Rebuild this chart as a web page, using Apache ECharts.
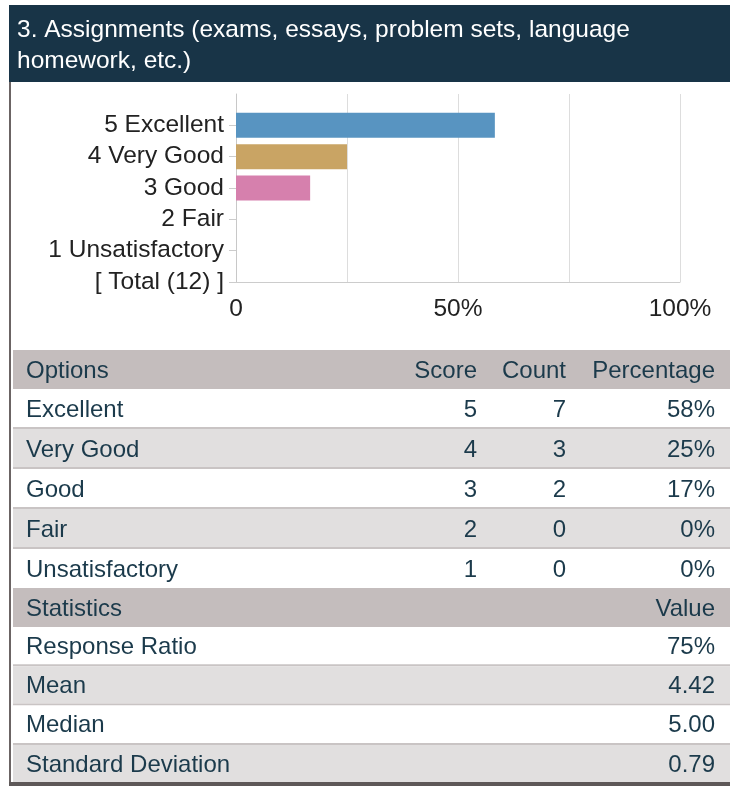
<!DOCTYPE html>
<html>
<head>
<meta charset="utf-8">
<script src="https://cdn.jsdelivr.net/npm/echarts@6/dist/echarts.min.js"></script>
<style>
html,body{margin:0;padding:0;background:#fff;}
#c{width:730px;height:786px;}
</style>
</head>
<body>
<div id="c"></div>
<script>
// ---- data ----
const titleLines = ['3. Assignments (exams, essays, problem sets, language', 'homework, etc.)'];
const options = ['Excellent', 'Very Good', 'Good', 'Fair', 'Unsatisfactory'];
const scores = [5, 4, 3, 2, 1];
const counts = [7, 3, 2, 0, 0];
const barPercents = [58.3, 25, 16.7, 0, 0];
const percentLabels = ['58%', '25%', '17%', '0%', '0%'];
const totalLabel = '[ Total (12) ]';
const xTickValues = [0, 50, 100];
const xTickLabels = ['0', '50%', '100%'];
const tableHeaders = ['Options', 'Score', 'Count', 'Percentage'];
const statsHeaders = ['Statistics', 'Value'];
const statsNames = ['Response Ratio', 'Mean', 'Median', 'Standard Deviation'];
const statsValues = ['75%', '4.42', '5.00', '0.79'];

// ---- styles ----
const barColors = ['#5894c1', '#c9a464', '#d680ad', '#8fb98f', '#9a9a9a'];
const FONT = '"Liberation Sans", Arial, Helvetica, sans-serif';
const TXT = '#1b3a4b';

const chart = echarts.init(document.getElementById('c'), null, {renderer: 'canvas'});

// category axis (bottom to top): total, 1..5, empty top slot
const yCats = [totalLabel];
const barData = [null];
for (let i = scores.length - 1; i >= 0; i--) {
  yCats.push(scores[i] + ' ' + options[i]);
  barData.push({value: barPercents[i], itemStyle: {color: barColors[i]}});
}
yCats.push('');
barData.push(null);

// ---- graphic: header + tables ----
const g = [];
g.push({type: 'rect', shape: {x: 9, y: 5, width: 721, height: 77}, style: {fill: '#183447'}, silent: true});
titleLines.forEach((t, i) => {
  g.push({type: 'text', style: {text: t, x: 17, y: 30 + i * 31.5, fill: '#ffffff', fontSize: 24.5, fontFamily: FONT, align: 'left', verticalAlign: 'middle'}, silent: true});
});
g.push({type: 'rect', shape: {x: 9, y: 82, width: 2, height: 704}, style: {fill: '#6b6464'}, silent: true});

const colX = [26, 477, 566, 715];
const colAlign = ['left', 'right', 'right', 'right'];
function textEl(t, x, y, align) {
  return {type: 'text', style: {text: t, x: x, y: y, fill: TXT, fontSize: 24, fontFamily: FONT, align: align, verticalAlign: 'middle'}, silent: true};
}
// options table header
g.push({type: 'rect', shape: {x: 13, y: 350, width: 717, height: 39}, style: {fill: '#c4bdbd'}, silent: true});
tableHeaders.forEach((h, j) => g.push(textEl(h, colX[j], 371, colAlign[j])));
// rows
options.forEach((o, i) => {
  const top = 389 + i * 40;
  const last = i === options.length - 1;
  g.push({type: 'rect', shape: {x: 13, y: top, width: 717, height: last ? 39 : 38}, style: {fill: i % 2 ? '#e1dfdf' : '#ffffff'}, silent: true});
  if (!last) g.push({type: 'rect', shape: {x: 13, y: top + 38, width: 717, height: 2}, style: {fill: '#c9c4c4'}, silent: true});
  const cy = top + 21;
  g.push(textEl(o, colX[0], cy, 'left'));
  g.push(textEl(String(scores[i]), colX[1], cy, 'right'));
  g.push(textEl(String(counts[i]), colX[2], cy, 'right'));
  g.push(textEl(percentLabels[i], colX[3], cy, 'right'));
});
// stats header
g.push({type: 'rect', shape: {x: 13, y: 588, width: 717, height: 39}, style: {fill: '#c4bdbd'}, silent: true});
g.push(textEl(statsHeaders[0], colX[0], 609, 'left'));
g.push(textEl(statsHeaders[1], colX[3], 609, 'right'));
statsNames.forEach((s, i) => {
  const top = 627 + i * 39.3;
  const last = i === statsNames.length - 1;
  g.push({type: 'rect', shape: {x: 13, y: top, width: 717, height: last ? 40 : 37.3}, style: {fill: i % 2 ? '#e1dfdf' : '#ffffff'}, silent: true});
  if (!last) g.push({type: 'rect', shape: {x: 13, y: top + 37.3, width: 717, height: 2}, style: {fill: '#c9c4c4'}, silent: true});
  const cy = top + 20;
  g.push(textEl(s, colX[0], cy, 'left'));
  g.push(textEl(statsValues[i], colX[3], cy, 'right'));
});
g.push({type: 'rect', shape: {x: 9, y: 782, width: 721, height: 4}, style: {fill: '#5e5858'}, silent: true});

chart.setOption({
  animation: false,
  backgroundColor: '#ffffff',
  grid: {left: 236, top: 94, width: 444, height: 188, containLabel: false},
  xAxis: {
    type: 'value', min: 0, max: 100, interval: 25,
    axisLine: {show: true, lineStyle: {color: '#cccccc', width: 1}},
    axisTick: {show: false},
    splitLine: {show: true, lineStyle: {color: '#dddddd', width: 1}},
    axisLabel: {
      color: '#222222', fontSize: 24.5, fontFamily: FONT, margin: 15,
      formatter: function (v) { const k = xTickValues.indexOf(v); return k >= 0 ? xTickLabels[k] : ''; }
    }
  },
  yAxis: {
    type: 'category', data: yCats, boundaryGap: false,
    axisLine: {show: true, lineStyle: {color: '#c8c8c8', width: 1}},
    axisTick: {show: true, length: 7, lineStyle: {color: '#cccccc'}, interval: function (idx, val) { return val !== ''; }},
    splitLine: {show: false},
    axisLabel: {color: '#222222', fontSize: 24.5, fontFamily: FONT, margin: 12, interval: 0}
  },
  series: [{
    type: 'bar', data: barData, barWidth: 25, silent: true
  }],
  graphic: {elements: g}
});
</script>
</body>
</html>
